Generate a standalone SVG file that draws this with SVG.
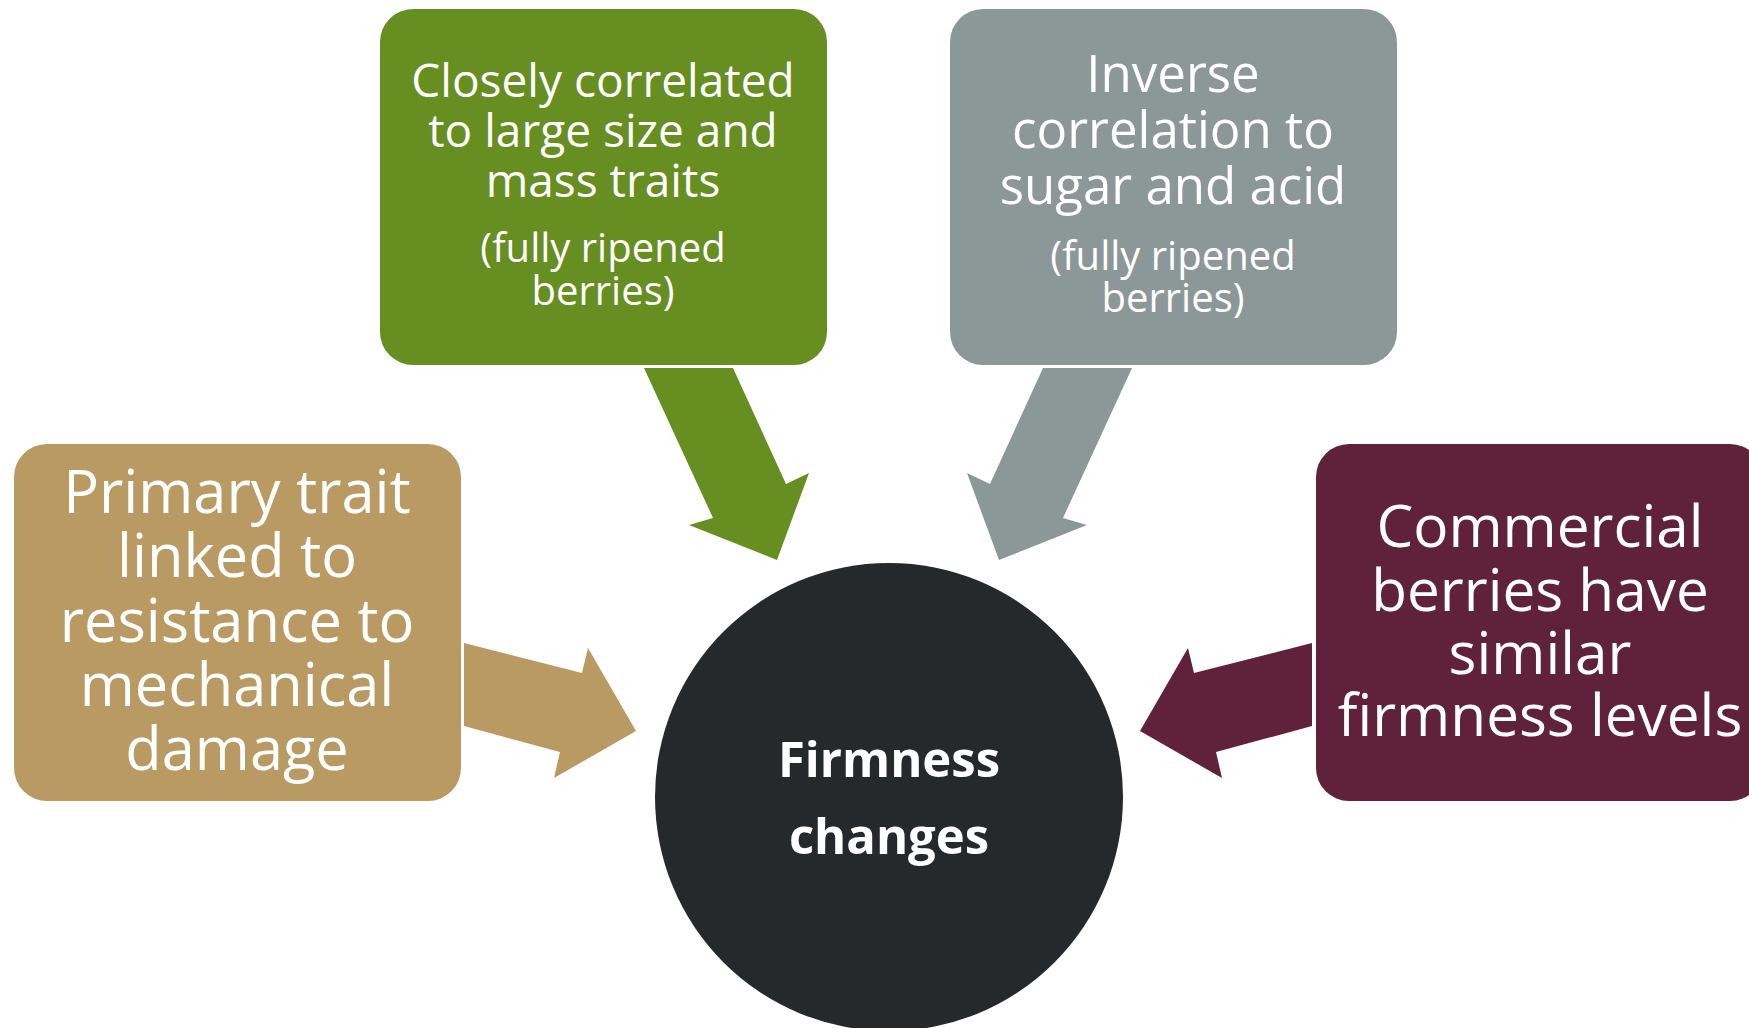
<svg xmlns="http://www.w3.org/2000/svg" width="1749" height="1028" viewBox="0 0 1749 1028">
<style>
  text { fill: #ffffff; font-family: "Open Sans", "DejaVu Sans", sans-serif; text-anchor: middle; }
  .t-tan { font-size: 59.5px; }
  .t-green { font-size: 46px; }
  .t-gray { font-size: 51px; }
  .t-sub { font-size: 40px; }
  .t-maroon { font-size: 58.5px; }
  .t-center { font-size: 49px; font-weight: bold; }
</style>
<rect width="1749" height="1028" fill="#ffffff"/>
<g id="connectors">
  <polygon fill="#b89a62" points="464,643 582,673 588,648 636,731 554,778 560,752 464,726"/>
  <polygon fill="#678e20" points="644,368 713,518 689,525 777,560 809,473 786,484 733,368"/>
  <polygon fill="#8c9797" points="1132,368 1063,518 1087,525 999,560 967,473 990,484 1043,368"/>
  <polygon fill="#5f223a" points="1312,643 1194,673 1188,648 1140,731 1222,778 1216,752 1312,726"/>
</g>
<g id="node-center">
  <circle cx="889" cy="797" r="234" fill="#26292c"/>
  <text class="t-center" x="889" y="777">Firmness</text>
  <text class="t-center" x="889" y="854">changes</text>
</g>
<g id="node-primary">
  <rect x="14" y="444" width="447" height="357" rx="33" fill="#b89a62"/>
  <text class="t-tan" x="237" y="513">Primary trait</text>
  <text class="t-tan" x="237" y="577">linked to</text>
  <text class="t-tan" x="237" y="642">resistance to</text>
  <text class="t-tan" x="237" y="706">mechanical</text>
  <text class="t-tan" x="237" y="770">damage</text>
</g>
<g id="node-size">
  <rect x="380" y="9" width="447" height="356" rx="33" fill="#678e20"/>
  <text class="t-green" x="603" y="97">Closely correlated</text>
  <text class="t-green" x="603" y="147">to large size and</text>
  <text class="t-green" x="603" y="197">mass traits</text>
  <text class="t-sub" x="603" y="262">(fully ripened</text>
  <text class="t-sub" x="603" y="305">berries)</text>
</g>
<g id="node-sugar">
  <rect x="950" y="9" width="447" height="356" rx="33" fill="#8c9797"/>
  <text class="t-gray" x="1173" y="92">Inverse</text>
  <text class="t-gray" x="1173" y="148">correlation to</text>
  <text class="t-gray" x="1173" y="204">sugar and acid</text>
  <text class="t-sub" x="1173" y="270">(fully ripened</text>
  <text class="t-sub" x="1173" y="312">berries)</text>
</g>
<g id="node-commercial">
  <rect x="1316" y="444" width="447" height="357" rx="33" fill="#5f223a"/>
  <text class="t-maroon" x="1540" y="547">Commercial</text>
  <text class="t-maroon" x="1540" y="611">berries have</text>
  <text class="t-maroon" x="1540" y="674">similar</text>
  <text class="t-maroon" x="1540" y="736">firmness levels</text>
</g>
</svg>
